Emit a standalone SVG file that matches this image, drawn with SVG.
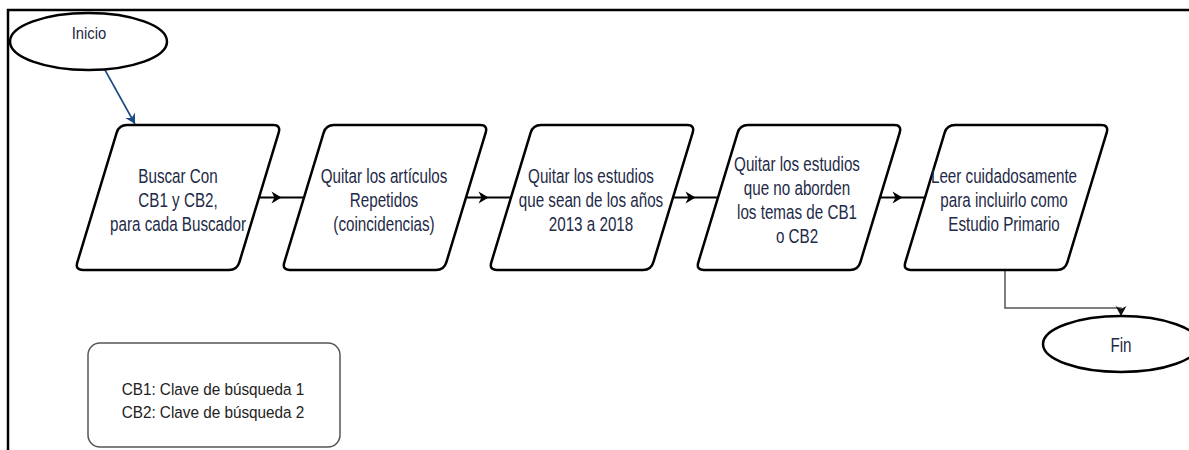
<svg xmlns="http://www.w3.org/2000/svg" xmlns:xlink="http://www.w3.org/1999/xlink" width="1189" height="450" viewBox="0 0 1189 450">
<style>
.frame{fill:none;stroke:#000;stroke-width:2.5}
.term{fill:#fff;stroke:#000;stroke-width:2.5}
.para{fill:#fff;stroke:#000;stroke-width:2.5;stroke-linejoin:round}
.legend{fill:#fff;stroke:#555;stroke-width:1.5}
.t{font-family:"Liberation Sans",Arial,Helvetica,sans-serif;font-size:19.5px;fill:#1e2a47;text-anchor:middle}
.ti{font-family:"Liberation Sans",Arial,Helvetica,sans-serif;font-size:17px;fill:#1e2a47;text-anchor:middle}
.tl{font-family:"Liberation Sans",Arial,Helvetica,sans-serif;font-size:17px;fill:#222;text-anchor:middle}
.flow{fill:none;stroke:#000;stroke-width:2}
.grey{fill:none;stroke:#555;stroke-width:1.5}
.blue{fill:none;stroke:#1c4a86;stroke-width:1.6}
</style>
<defs>
<path id="pg" d="M8,0 L154,0 Q162,0 159.68,7.66 L120.32,137.34 Q118,145 110,145 L-36,145 Q-44,145 -41.68,137.34 L-2.32,7.66 Q0,0 8,0 Z"/>
<marker id="ab" markerUnits="userSpaceOnUse" markerWidth="14" markerHeight="14" viewBox="-12 -7 14 14" refX="0" refY="0" orient="auto">
<path d="M0,0 L-10,-6 L-7,0 L-10,6 Z" fill="#000"/>
</marker>
<marker id="ag" markerUnits="userSpaceOnUse" markerWidth="14" markerHeight="14" viewBox="-12 -7 14 14" refX="0" refY="0" orient="auto">
<path d="M0,0 L-10,-5.5 L-7,0 L-10,5.5 Z" fill="#111"/>
</marker>
<marker id="abl" markerUnits="userSpaceOnUse" markerWidth="14" markerHeight="14" viewBox="-12 -7 14 14" refX="0" refY="0" orient="auto">
<path d="M0,0 L-10,-5.5 L-7,0 L-10,5.5 Z" fill="#1c4a86"/>
</marker>
</defs>
<rect width="1189" height="450" fill="#fff"/>
<path class="frame" d="M8,450 L8,10 L1189,10"/>

<g id="connectors">
<path class="blue" d="M105,70 L135,124" marker-end="url(#abl)"/>
<path class="flow" d="M259,197.5 L281.5,197.5 L304,197.5" marker-mid="url(#ab)"/>
<path class="flow" d="M466,197.5 L488.5,197.5 L511,197.5" marker-mid="url(#ab)"/>
<path class="flow" d="M673,197.5 L695.5,197.5 L718,197.5" marker-mid="url(#ab)"/>
<path class="flow" d="M880,197.5 L902.5,197.5 L925,197.5" marker-mid="url(#ab)"/>
<path class="grey" d="M1005,270 L1005,308 L1121,308 L1121,316" marker-end="url(#ag)"/>
</g>

<g id="inicio">
<ellipse class="term" cx="88.5" cy="41.5" rx="78.5" ry="28.5"/>
<text class="ti" transform="translate(89,39) scale(0.87,1)">Inicio</text>
</g>

<g id="buscar">
<use xlink:href="#pg" href="#pg" class="para" x="119" y="125"/>
<text class="t" transform="translate(178,183) scale(0.78,1)">Buscar Con</text>
<text class="t" transform="translate(178,207) scale(0.78,1)">CB1 y CB2,</text>
<text class="t" transform="translate(178,231) scale(0.78,1)">para cada Buscador</text>
</g>

<g id="quitar-repetidos">
<use xlink:href="#pg" href="#pg" class="para" x="326" y="125"/>
<text class="t" transform="translate(384,183) scale(0.78,1)">Quitar los artículos</text>
<text class="t" transform="translate(384,207) scale(0.78,1)">Repetidos</text>
<text class="t" transform="translate(384,231) scale(0.78,1)">(coincidencias)</text>
</g>

<g id="quitar-anios">
<use xlink:href="#pg" href="#pg" class="para" x="533" y="125"/>
<text class="t" transform="translate(591,183) scale(0.78,1)">Quitar los estudios</text>
<text class="t" transform="translate(591,207) scale(0.78,1)">que sean de los años</text>
<text class="t" transform="translate(591,231) scale(0.78,1)">2013 a 2018</text>
</g>

<g id="quitar-temas">
<use xlink:href="#pg" href="#pg" class="para" x="740" y="125"/>
<text class="t" transform="translate(797,171) scale(0.78,1)">Quitar los estudios</text>
<text class="t" transform="translate(797,195) scale(0.78,1)">que no aborden</text>
<text class="t" transform="translate(797,219) scale(0.78,1)">los temas de CB1</text>
<text class="t" transform="translate(797,243) scale(0.78,1)">o CB2</text>
</g>

<g id="leer">
<use xlink:href="#pg" href="#pg" class="para" x="947" y="125"/>
<text class="t" transform="translate(1004,183) scale(0.78,1)">Leer cuidadosamente</text>
<text class="t" transform="translate(1004,207) scale(0.78,1)">para incluirlo como</text>
<text class="t" transform="translate(1004,231) scale(0.78,1)">Estudio Primario</text>
</g>

<g id="fin">
<ellipse class="term" cx="1121" cy="344" rx="78" ry="28"/>
<text class="t" transform="translate(1121,352) scale(0.78,1)">Fin</text>
</g>

<g id="leyenda">
<rect class="legend" x="88" y="343" width="252" height="104" rx="12" ry="12"/>
<text class="tl" transform="translate(213,395) scale(0.9,1)">CB1: Clave de búsqueda 1</text>
<text class="tl" transform="translate(213,418) scale(0.9,1)">CB2: Clave de búsqueda 2</text>
</g>
</svg>
